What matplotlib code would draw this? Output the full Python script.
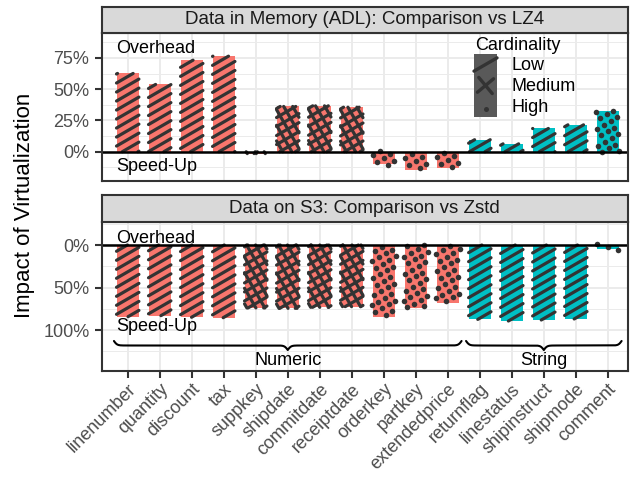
import numpy as np
import matplotlib
matplotlib.use("Agg")
import matplotlib.pyplot as plt
from matplotlib.collections import LineCollection
from matplotlib.patches import Rectangle
from matplotlib.ticker import FixedLocator

plt.rcParams['font.family'] = ['Liberation Sans', 'DejaVu Sans']

# ---------------- data ----------------
columns = ['linenumber', 'quantity', 'discount', 'tax', 'suppkey', 'shipdate',
           'commitdate', 'receiptdate', 'orderkey', 'partkey', 'extendedprice',
           'returnflag', 'linestatus', 'shipinstruct', 'shipmode', 'comment']
data_type = ['Numeric'] * 11 + ['String'] * 5
cardinality = ['Low'] * 4 + ['Medium'] * 4 + ['High'] * 3 + ['Low'] * 4 + ['High']
# top panel: overhead (+) / speed-up (-) in %
memory_impact = [62.6, 53.8, 73.2, 76.4, -1.5, 36.2, 36.7, 35.6,
                 -9.9, -14.9, -13.1, 9.6, 6.3, 18.6, 21.5, 32.6]
# bottom panel: speed-up in % (drawn downward)
s3_speedup = [84.3, 83.1, 85.0, 85.5, 74.0, 74.5, 73.3, 72.5,
              84.3, 73.7, 67.8, 87.5, 89.4, 88.2, 87.0, 5.0]
top_ticks = [0, 25, 50, 75]
bottom_ticks = [0, 50, 100]
groups = ['Numeric', 'String']
card_levels = ['Low', 'Medium', 'High']

fill_colors = {'Numeric': '#F8766D', 'String': '#00BFC4'}
PAT = '#333333'
W, H = 630, 484

fig = plt.figure(figsize=(W / 100, H / 100), dpi=100)


def fr(left, top, right, bottom):
    return [left / W, 1 - bottom / H, (right - left) / W, (bottom - top) / H]


PL, PR = 101.7, 628.0
ax1 = fig.add_axes(fr(PL, 32.9, PR, 181.0))
ax2 = fig.add_axes(fr(PL, 222.3, PR, 371.0))
st1 = fig.add_axes(fr(PL, 6.7, PR, 32.9))
st2 = fig.add_axes(fr(PL, 195.0, PR, 222.3))

x = np.arange(len(columns))
xlim = (-0.8125, 15.63)

ax1.set_xlim(*xlim)
ax2.set_xlim(*xlim)
ax1.set_ylim(-23.4, 95)
ax2.set_ylim(148.2, -26.7)

for ax in (ax1, ax2):
    ax.set_facecolor('white')
    ax.set_axisbelow(True)
    ax.grid(True, which='major', color='#EBEBEB', lw=1.4)
    ax.grid(True, which='minor', axis='y', color='#EBEBEB', lw=0.7)
    for sp in ax.spines.values():
        sp.set_color('#333333')
        sp.set_linewidth(1.5)
        sp.set_zorder(6)
    ax.tick_params(axis='y', which='major', length=4.8, width=1.5, color='#333333',
                   labelsize=13, labelcolor='#4D4D4D', pad=4)
    ax.tick_params(axis='y', which='minor', length=0)
    ax.set_xticks(x)
    ax.axhline(0, color='black', lw=1.8, zorder=4)

ax1.yaxis.set_major_locator(FixedLocator(top_ticks))
ax1.set_yticklabels([f'{t}%' for t in top_ticks])
ax1.yaxis.set_minor_locator(FixedLocator([-12.5, 12.5, 37.5, 62.5, 87.5]))
ax2.yaxis.set_major_locator(FixedLocator(bottom_ticks))
ax2.set_yticklabels([f'{t}%' for t in bottom_ticks])
ax2.yaxis.set_minor_locator(FixedLocator([-25, 25, 75, 125]))

ax1.tick_params(axis='x', length=0, labelbottom=False)
ax2.tick_params(axis='x', length=4.8, width=1.5, color='#333333', pad=2)
ax2.set_xticklabels(columns, rotation=45, ha='right', va='top',
                    rotation_mode='anchor', fontsize=13, color='#4D4D4D')

# strips
for st, title in ((st1, 'Data in Memory (ADL): Comparison vs LZ4'),
                  (st2, 'Data on S3: Comparison vs Zstd')):
    st.set_facecolor('#D9D9D9')
    st.set_xticks([])
    st.set_yticks([])
    for sp in st.spines.values():
        sp.set_color('#333333')
        sp.set_linewidth(1.5)
    st.text(0.5, 0.5, title, ha='center', va='center', fontsize=13.5,
            color='#1A1A1A', transform=st.transAxes)

colors = [fill_colors[g] for g in data_type]
bars1 = ax1.bar(x, memory_impact, width=0.7, color=colors, zorder=2)
bars2 = ax2.bar(x, s3_speedup, width=0.7, color=colors, zorder=2)


# ------------- patterns (computed from each bar's geometry) -------------
def stripe_segments(x0, x1, y0, y1, ang, sp, cx, cy):
    th = np.radians(ang)
    d = np.array([np.cos(th), np.sin(th)])
    n = np.array([-np.sin(th), np.cos(th)])
    c0 = np.array([cx, cy]) @ n
    corners = np.array([[x0, y0], [x1, y0], [x0, y1], [x1, y1]])
    proj = corners @ n - c0
    segs = []
    for k in range(int(np.ceil(proj.min() / sp)), int(np.floor(proj.max() / sp)) + 1):
        p0 = (c0 + k * sp) * n
        tlo, thi = -np.inf, np.inf
        for i, (lo, hi) in enumerate(((x0, x1), (y0, y1))):
            if abs(d[i]) < 1e-12:
                if not (lo <= p0[i] <= hi):
                    tlo, thi = 1, 0
                continue
            ta, tb = (lo - p0[i]) / d[i], (hi - p0[i]) / d[i]
            tlo = max(tlo, min(ta, tb))
            thi = min(thi, max(ta, tb))
        if thi > tlo:
            segs.append([p0 + tlo * d, p0 + thi * d])
    return segs


def dot_points(x0, x1, y0, y1, ang, sp, cx, cy):
    th = np.radians(ang)
    d = np.array([np.cos(th), np.sin(th)])
    n = np.array([-np.sin(th), np.cos(th)])
    R = int(np.hypot(x1 - x0, y1 - y0) / sp) + 2
    pts = []
    for i in range(-R, R + 1):
        for j in range(-R, R + 1):
            p = np.array([cx, cy]) + i * sp * d + j * sp * n
            if x0 - 1.0 <= p[0] <= x1 + 1.0 and y0 - 1.0 <= p[1] <= y1 + 1.0:
                pts.append(p)
    return np.array(pts)


def add_pattern(ax, rect, kind):
    T = ax.transData
    inv = T.inverted()
    a = T.transform((rect.get_x(), rect.get_y()))
    b = T.transform((rect.get_x() + rect.get_width(), rect.get_y() + rect.get_height()))
    x0, x1 = sorted((a[0], b[0]))
    y0, y1 = sorted((a[1], b[1]))
    cx, cy = (x0 + x1) / 2, (y0 + y1) / 2
    if kind in ('Low', 'Medium'):
        angs = [30] if kind == 'Low' else [30, 120]
        segs = []
        for ang in angs:
            segs += stripe_segments(x0, x1, y0, y1, ang, 7.8, cx, cy)
        segs = [inv.transform(np.array(s)) for s in segs]
        ax.add_collection(LineCollection(segs, colors=PAT, linewidths=2.3,
                                         capstyle='round', zorder=3))
    else:
        pts = dot_points(x0, x1, y0, y1, 30, 7.6, cx, cy)
        if len(pts):
            dp = inv.transform(pts)
            ax.plot(dp[:, 0], dp[:, 1], 'o', ms=4.0, color=PAT, mew=0, zorder=3)


for ax, bars in ((ax1, bars1), (ax2, bars2)):
    for rect, kind in zip(bars, cardinality):
        add_pattern(ax, rect, kind)

# ------------- annotations -------------
ann_kw = dict(fontsize=13, color='black', ha='left', va='baseline', zorder=5)
ax1.text(-0.35, 78.9, 'Overhead', **ann_kw)
ax1.text(-0.35, -15.6, 'Speed-Up', **ann_kw)
ax2.text(-0.35, -2.9, 'Overhead', **ann_kw)
ax2.text(-0.35, 100.6, 'Speed-Up', **ann_kw)


def brace(ax, xa, xb, y_end, y_tip, s=1.6):
    T = ax.transData
    p0 = T.transform((xa, y_end))
    p1 = T.transform((xb, y_tip))
    L = (p1[0] - p0[0]) / 2
    h = p1[1] - p0[1]
    dd = np.linspace(0, L, 300)
    f = 1 / (1 + np.exp(-dd / s)) + 1 / (1 + np.exp(-(dd - L) / s)) - 0.5
    xs = np.concatenate([p0[0] + dd, p0[0] + 2 * L - dd[::-1]])
    ys = np.concatenate([p0[1] + f * h, p0[1] + f[::-1] * h])
    pts = T.inverted().transform(np.column_stack([xs, ys]))
    ax.plot(pts[:, 0], pts[:, 1], color='black', lw=1.5, zorder=5,
            solid_capstyle='round')


for g in groups:
    idx = [i for i, t in enumerate(data_type) if t == g]
    xa, xb = min(idx) - 0.43, max(idx) + 0.43
    brace(ax2, xa, xb, 112.9, 123.5)
    ax2.text((xa + xb) / 2, 140.6, g, ha='center', va='baseline', fontsize=13,
             color='black', zorder=5)


# ------------- legend (drawn inside top panel) -------------
def to_ax(px, py):
    return ax1.transAxes.inverted().transform((px, H - py))


def to_ax_arr(pts):
    pts = np.asarray(pts, float)
    disp = np.column_stack([pts[:, 0], H - pts[:, 1]])
    return ax1.transAxes.inverted().transform(disp)


kx0, kx1, ky0, kh = 474.0, 497.0, 54.0, 21.0
bl = to_ax(kx0, ky0 + 3 * kh)
tr = to_ax(kx1, ky0)
ax1.add_patch(Rectangle(bl, tr[0] - bl[0], tr[1] - bl[1], transform=ax1.transAxes,
                        facecolor='#595959', edgecolor='none', zorder=5))
tx, ty = to_ax(kx0 + 1, 45.5)
ax1.text(tx, ty, 'Cardinality', transform=ax1.transAxes, fontsize=13,
         ha='left', va='center', zorder=6)
kcx = (kx0 + kx1) / 2
for i, lab in enumerate(card_levels):
    cy = ky0 + kh * (i + 0.5)
    if lab == 'Low':
        th = np.radians(30)
        hx = 11.5
        seg = [(kcx - hx, cy + hx * np.tan(th)), (kcx + hx, cy - hx * np.tan(th))]
        p = to_ax_arr(seg)
        ax1.plot(p[:, 0], p[:, 1], color=PAT, lw=2.4, solid_capstyle='round',
                 transform=ax1.transAxes, zorder=6)
    elif lab == 'Medium':
        for ang in (40, -50):
            th = np.radians(ang)
            r = 10.5
            seg = [(kcx - r * np.cos(th), cy + r * np.sin(th)),
                   (kcx + r * np.cos(th), cy - r * np.sin(th))]
            p = to_ax_arr(seg)
            ax1.plot(p[:, 0], p[:, 1], color=PAT, lw=2.4, solid_capstyle='round',
                     transform=ax1.transAxes, zorder=6)
    else:
        p = to_ax(kcx, cy + 2.5)
        ax1.plot([p[0]], [p[1]], 'o', ms=3.6, color=PAT, mew=0,
                 transform=ax1.transAxes, zorder=6)
    lx, ly = to_ax(511.7, cy + 5.3)
    ax1.text(lx, ly, lab, transform=ax1.transAxes, fontsize=13, ha='left',
             va='baseline', zorder=6)

fig.text(25 / W, 1 - 205 / H, 'Impact of Virtualization', rotation=90,
         ha='center', va='center', fontsize=16, color='black')

fig.savefig('out.png', dpi=100)
